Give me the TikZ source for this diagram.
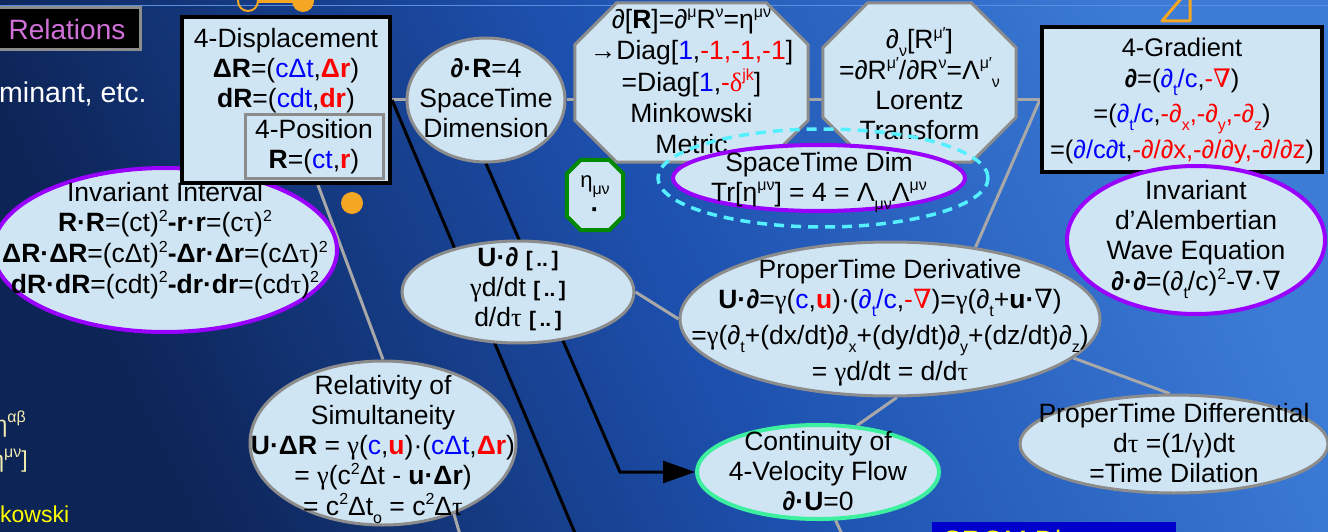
\documentclass[tikz,border=0pt]{standalone}
\usepackage{fontspec}
\setmainfont{Liberation Sans}
\newfontfamily\serf{Liberation Serif}
\newfontfamily\nabf{DejaVu Serif}
\usetikzlibrary{shapes.geometric,arrows.meta}
\pgfdeclarelayer{bg}
\pgfdeclarelayer{lines}
\pgfdeclarelayer{shapes}
\pgfsetlayers{bg,lines,shapes,main}
\definecolor{fillc}{HTML}{CFE5F3}
\definecolor{greyc}{HTML}{8C8C8C}
\definecolor{linec}{HTML}{A8A8A8}
\definecolor{purp}{HTML}{9A00FF}
\definecolor{mint}{HTML}{3CF0A0}
\definecolor{cyanc}{HTML}{55F0FF}
\definecolor{orng}{HTML}{F5A623}
\definecolor{myblue}{HTML}{0000FF}
\definecolor{myred}{HTML}{FF0000}
\definecolor{pinkc}{HTML}{D070D8}
\definecolor{yel}{HTML}{FFFF00}
\definecolor{paley}{HTML}{F3EEB0}
\definecolor{greenc}{HTML}{008A00}
\definecolor{bgL}{HTML}{0D2456}
\definecolor{bgM}{HTML}{1D50AE}
\definecolor{bgR}{HTML}{3C7CD6}
\definecolor{topl}{HTML}{5A8FDD}
\definecolor{srqm}{HTML}{0000CC}
\newcommand\Bl[1]{\textcolor{myblue}{#1}}
\newcommand\Rd[1]{\textcolor{myred}{#1}}
\newcommand\up[1]{\raisebox{0.40em}{\fontsize{16}{16}\selectfont #1}}
\newcommand\dn[1]{\raisebox{-0.30em}{\fontsize{16}{16}\selectfont #1}}
\newcommand\tu{{\serf τ}}
\newcommand\ga{{\serf γ}}
\newcommand\dl{{\serf δ}}
\newcommand\na{{\nabf ∇}}
\newcommand\pd{{\itshape ∂}}
\newcommand\bpd{{\bfseries\itshape ∂}}
\newcommand\brk{{\bfseries\fontsize{21}{21}\selectfont [\,..\,]}}
\newcommand\ctext[2][0pt]{\makebox[0pt]{\raisebox{\dimexpr-8pt-#1\relax}{\smash{\begin{tabular}{@{}c@{}}#2\end{tabular}}}}}
\newcommand\drawoct[4]{%
  \draw[draw=#3, line width=#4, fill=fillc, line join=miter]
   ([xshift=#2]#1.north west) -- ([xshift=-#2]#1.north east) -- ([yshift=-#2]#1.north east)
   -- ([yshift=#2]#1.south east) -- ([xshift=-#2]#1.south east) -- ([xshift=#2]#1.south west)
   -- ([yshift=#2]#1.south west) -- ([yshift=-#2]#1.north west) -- cycle;}
\begin{document}
\begin{tikzpicture}[x=1pt,y=-1pt,
  font=\fontsize{26.5}{30}\selectfont,
  ell/.style={ellipse, draw=greyc, line width=3pt, fill=fillc, inner sep=0pt},
  pell/.style={ell, draw=purp, line width=4pt},
  box/.style={rectangle, draw=black, line width=4pt, fill=fillc, inner sep=0pt},
  plain/.style={inner sep=0pt},
  conn/.style={draw=linec, line width=3pt},
  bconn/.style={draw=black, line width=3pt},
  side/.style={inner sep=0pt, font=\fontsize{23}{26}\selectfont}]
\useasboundingbox (0,0) rectangle (1328,532);
\begin{pgfonlayer}{bg}
\shade[top color=bgR, bottom color=bgL, middle color=bgM, shading angle=-65] (0,0) rectangle (1328,532);
\draw[topl, line width=1.5pt] (0,5.5) -- (1328,5.5);
\end{pgfonlayer}

% left side texts
\node[draw=greyc, line width=3pt, fill=black, minimum width=146pt, minimum height=42pt, inner sep=0pt] (rel) at (67,29)
  {\textcolor{pinkc}{\fontsize{28}{30}\selectfont Relations}};
\node[plain, anchor=base west, text=white, font=\fontsize{28.5}{30}\selectfont] (det) at (-1,103) {minant, etc.};
\node[side, anchor=base east, text=paley] (y1) at (26,432) {η\up{αβ}};
\node[side, anchor=base east, text=paley] (y2) at (28,467) {η\up{μν}]};
\node[side, anchor=base west, text=yel] (y3) at (0,522) {kowski};
\node[fill=srqm, minimum width=244pt, minimum height=40pt, inner sep=0pt] (srqmbox) at (1054,542) {};
\node[plain, anchor=base west, text=yel, font=\fontsize{28}{30}\selectfont] (srqmtxt) at (943,550) {SRQM Diagram};

% orange decorations
\draw[orng, line width=2pt] (248,1) circle[radius=10];
\draw[orng, line width=3pt] (258,1.5) -- (293,1.5);
\fill[orng] (303,1) circle[radius=11];
\fill[orng] (352,203) circle[radius=11];
\draw[orng, line width=3pt, line join=round] (1162,21) -- (1190,21) -- (1190,-12) -- cycle;

% nodes
\node[pell, minimum width=344pt, minimum height=164pt] (inv) at (165,250)
 {\ctext[-13pt]{Invariant Interval\\
 \textbf{R·R}=(ct)\up{2}\textbf{-r·r}=(c\tu)\up{2}\\
 \textbf{ΔR·ΔR}=(cΔt)\up{2}\textbf{-Δr·Δr}=(cΔ\tu)\up{2}\\
 \textbf{dR·dR}=(cdt)\up{2}\textbf{-dr·dr}=(cd\tu)\up{2}}};
\node[box, minimum width=208pt, minimum height=166pt] (disp) at (286,100) {};
\node[plain] (disptxt) at (286,70) {\ctext[8pt]{4-Displacement\\
 \textbf{ΔR}=(\Bl{cΔt},\Rd{\textbf{Δr}})\\
 \textbf{dR}=(\Bl{cdt},\Rd{\textbf{dr}})}};
\node[box, draw=greyc, line width=3pt, minimum width=138pt, minimum height=63pt] (pos) at (314,146.5)
 {\ctext[6pt]{4-Position\\ \textbf{R}=(\Bl{ct},\Rd{\textbf{r}})}};
\node[ell, minimum width=158pt, minimum height=124pt] (R4) at (486,100)
 {\ctext[7pt]{\bpd\textbf{·R}=4\\SpaceTime\\Dimension}};
\node[plain, minimum width=233pt, minimum height=159pt] (mink) at (691.5,82.5)
 {\ctext[9pt]{∂[\textbf{R}]=∂\up{μ}R\up{ν}=η\up{μν}\\[1pt]
 →Diag[\Bl{1},\Rd{-1,-1,-1}]\\[1pt]
 =Diag[\Bl{1},\Rd{-\dl\up{jk}}]\\[1pt]
 Minkowski\\[1pt]Metric}};
\node[plain, minimum width=193pt, minimum height=159pt] (lor) at (919.5,82.5)
 {\ctext[15pt]{\pd\dn{ν}[R\up{μ′}]\\
 =∂R\up{μ′}/∂R\up{ν}=Λ\up{μ′}\dn{ν}\\
 Lorentz\\Transform}};
\node[box, minimum width=280pt, minimum height=145pt, font=\fontsize{25.5}{30}\selectfont] (grad) at (1182,99.5)
 {\ctext[9pt]{4-Gradient\\[1pt]
 \bpd=(\Bl{\pd\dn{t}/c},\Rd{-\na})\\[5pt]
 =(\Bl{\pd\dn{t}/c},\Rd{-\pd\dn{x},-\pd\dn{y},-\pd\dn{z}})\\[6pt]
 =(\Bl{\pd/c\pd t},\Rd{-\pd/\pd x,-\pd/\pd y,-\pd/\pd z})}};
\node[plain, minimum width=56pt, minimum height=70pt] (eta) at (595,195)
 {\ctext[9pt]{\fontsize{22}{27}\selectfont η\dn{μν}\\ \textbf{·}}};
\node[ellipse, draw=cyanc, line width=3.5pt, dash pattern=on 10pt off 7pt, minimum width=330pt, minimum height=98pt, inner sep=0pt] (stdash) at (823,178) {};
\node[pell, minimum width=292pt, minimum height=66pt] (stdim) at (819,178)
 {\ctext[11pt]{SpaceTime Dim\\ Tr[η\up{μν}] = 4 = Λ\dn{μν}Λ\up{μν}}};
\node[ell, minimum width=232pt, minimum height=102pt] (ud) at (518,292)
 {\ctext[2pt]{\textbf{U·}\bpd\ \brk\\ \ga d/dt \brk\\ d/d\tu\ \brk}};
\node[ell, minimum width=420pt, minimum height=154pt] (ptd) at (890,319)
 {\ctext[13pt]{ProperTime Derivative\\
 \textbf{U·}\bpd=\ga(\Bl{c},\Rd{\textbf{u}})·(\Bl{\pd\dn{t}/c},\Rd{-\na})=\ga(\pd\dn{t}+\textbf{u·}\na)\\[6pt]
 =\ga(\pd\dn{t}+(dx/dt)\pd\dn{x}+(dy/dt)\pd\dn{y}+(dz/dt)\pd\dn{z})\\[6pt]
 = \ga d/dt = d/d\tu}};
\node[pell, minimum width=258pt, minimum height=148pt] (dal) at (1196,240)
 {\ctext[2pt]{Invariant\\d’Alembertian\\Wave Equation\\ \bpd\textbf{·}\bpd=(\pd\dn{t}/c)\up{2}-\na·\na}};
\node[ell, minimum width=308pt, minimum height=98pt] (ptdiff) at (1174,444)
 {\ctext[9pt]{ProperTime Differential\\ d\tu\ =(1/\ga)dt\\ =Time Dilation}};
\node[ell, draw=mint, line width=4pt, minimum width=242pt, minimum height=94pt] (cont) at (818,472)
 {\ctext[9pt]{Continuity of\\4-Velocity Flow\\ \bpd\textbf{·U}=0}};
\node[ell, minimum width=266pt, minimum height=164pt] (relsim) at (383,443)
 {\ctext[16pt]{Relativity of\\Simultaneity\\
 \textbf{U·ΔR} = \ga(\Bl{c},\Rd{\textbf{u}})·(\Bl{cΔt},\Rd{\textbf{Δr}})\\
 = \ga(c\up{2}Δt - \textbf{u·Δr})\\
 = c\up{2}Δt\dn{o} = c\up{2}Δ\tu}};

\coordinate (minkc) at (619,150);
\coordinate (relbot) at (463,545);
\coordinate (contbot) at (847,545);
\coordinate (dispbot) at (580,545);
\coordinate (bend) at (620,472);

\begin{pgfonlayer}{shapes}
\drawoct{mink}{42pt}{greyc}{3pt}
\drawoct{lor}{45pt}{greyc}{3pt}
\drawoct{eta}{14pt}{greenc}{4pt}
\end{pgfonlayer}

\begin{pgfonlayer}{lines}
\draw[conn] (disp) -- (R4);
\draw[conn] (R4.east) -- (R4.east -| mink.west);
\draw[conn] (mink.east |- R4) -- (lor.west |- R4);
\draw[conn] (lor.east |- R4) -- (grad.west |- R4);
\draw[conn] (grad.west) -- (ptd.40);
\draw[conn] (eta.north east) -- (minkc);
\draw[conn] ([xshift=32pt]disp.south) -- (relsim.north);
\draw[conn] (relsim.-45) -- (relbot);
\draw[conn] (ud.east) -- (ptd.west);
\draw[conn] (ptd.-12) -- (ptdiff.95);
\draw[conn] (ptd.-85) -- (cont.50);
\draw[conn] (cont.-70) -- (contbot);
\draw[bconn] (disp.east) -- (dispbot);
\draw[bconn, -{Triangle[length=32pt,width=22pt]}] (R4.south) -- (bend) -- (cont.west);
\end{pgfonlayer}
\end{tikzpicture}
\end{document}
